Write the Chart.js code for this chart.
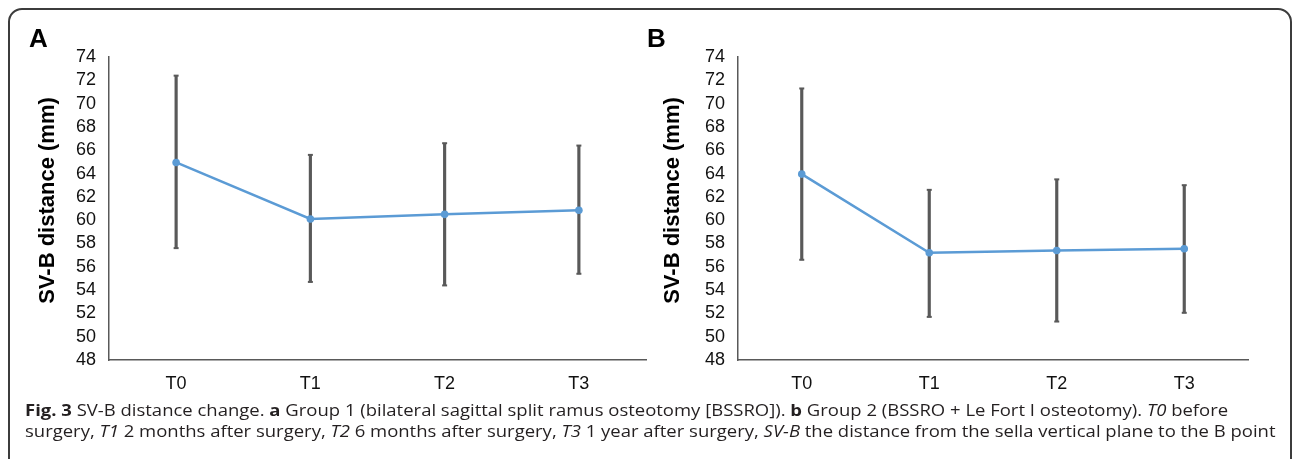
<!DOCTYPE html>
<html><head><meta charset="utf-8">
<script src="https://cdn.jsdelivr.net/npm/chart.js@4.4.1/dist/chart.umd.min.js"></script>
<style>
html,body{margin:0;padding:0;background:#fff;width:1292px;height:459px;overflow:hidden;position:relative;}
#frame{position:absolute;left:8px;top:8px;width:1284px;height:520px;border:2px solid #3c3c3c;border-radius:14px;box-sizing:border-box;}
canvas{position:absolute;top:0;}
#cA{left:0}
#cB{left:640px}
.lbl{position:absolute;font:bold 26px "Liberation Sans",Arial,sans-serif;line-height:26px;color:#000;}
.cap{position:absolute;left:25px;font-family:"Open Sans",sans-serif;font-size:16.5px;line-height:21px;color:#231f20;white-space:nowrap;transform-origin:0 0;}
</style></head>
<body>
<div id="frame"></div>
<canvas id="cA" width="660" height="400"></canvas>
<canvas id="cB" width="652" height="400"></canvas>
<div class="lbl" style="left:29px;top:25px">A</div>
<div class="lbl" style="left:647px;top:25px">B</div>
<div class="cap" id="cap1" style="top:399px"><b>Fig. 3</b> SV-B distance change. <b>a</b> Group 1 (bilateral sagittal split ramus osteotomy [BSSRO]). <b>b</b> Group 2 (BSSRO + Le Fort I osteotomy). <i>T0</i> before</div>
<div class="cap" id="cap2" style="top:420px">surgery, <i>T1</i> 2 months after surgery, <i>T2</i> 6 months after surgery, <i>T3</i> 1 year after surgery, <i>SV-B</i> the distance from the sella vertical plane to the B point</div>
<script>
const categories = ['T0', 'T1', 'T2', 'T3'];
const yTickValues = [48, 50, 52, 54, 56, 58, 60, 62, 64, 66, 68, 70, 72, 74];
const yTitle = 'SV-B distance (mm)';

// Group 1 (panel A)
const meanA  = [64.95, 60.1, 60.5, 60.85];
const upperA = [72.4, 65.6, 66.6, 66.4];
const lowerA = [57.6, 54.7, 54.4, 55.4];

// Group 2 (panel B)
const meanB  = [63.95, 57.2, 57.4, 57.55];
const upperB = [71.3, 62.6, 63.5, 63.0];
const lowerB = [56.6, 51.7, 51.3, 52.05];

const FONT = '"Liberation Sans", Arial, sans-serif';
const ERR = '#595959';
const BLUE = '#5B9BD5';

// y-axis title drawn slightly above the axis centre, as in the reference
const yTitlePlugin = {
  id: 'yTitle',
  afterDraw(chart, args, opts) {
    const ctx = chart.ctx, a = chart.chartArea;
    ctx.save();
    ctx.font = 'bold 22px ' + FONT;
    ctx.fillStyle = '#000';
    ctx.textAlign = 'center';
    ctx.textBaseline = 'middle';
    ctx.translate(opts.x, (a.top + a.bottom) / 2 - 8);
    ctx.rotate(-Math.PI / 2);
    ctx.fillText(yTitle, 0, 0);
    ctx.restore();
  }
};

function makeChart(id, mean, lower, upper, axisWidth, titleX, rightPad) {
  new Chart(document.getElementById(id), {
    data: {
      labels: categories,
      datasets: [
        { type: 'line', data: mean, borderColor: BLUE, backgroundColor: BLUE,
          borderWidth: 2.5, pointRadius: 3.8, pointBorderWidth: 0, pointBackgroundColor: BLUE,
          tension: 0, order: 0 },
        { type: 'bar', data: categories.map((c, i) => [lower[i], upper[i]]),
          backgroundColor: ERR, barThickness: 2.5, grouped: false, borderWidth: 0, order: 2 },
        { type: 'line', data: upper, showLine: false, pointStyle: 'line', pointRadius: 2.5,
          pointBorderColor: ERR, pointBorderWidth: 2, order: 1 },
        { type: 'line', data: lower, showLine: false, pointStyle: 'line', pointRadius: 2.5,
          pointBorderColor: ERR, pointBorderWidth: 2, order: 1 }
      ]
    },
    plugins: [yTitlePlugin],
    options: {
      responsive: false,
      animation: false,
      devicePixelRatio: 1,
      layout: { padding: { top: 57, right: rightPad, bottom: 0, left: 0 } },
      plugins: { legend: { display: false }, tooltip: { enabled: false }, yTitle: { x: titleX } },
      scales: {
        x: {
          type: 'category', offset: true,
          grid: { display: false, drawTicks: false },
          border: { display: true, color: ERR, width: 1.5 },
          ticks: { color: '#111', font: { family: FONT, size: 18 }, padding: 13 },
          afterFit: s => { s.height = 40; }
        },
        y: {
          min: 48, max: 74,
          grid: { display: false, drawTicks: false },
          border: { display: true, color: ERR, width: 1.5 },
          afterBuildTicks: s => { s.ticks = yTickValues.map(v => ({ value: v })); },
          ticks: { color: '#111', font: { family: FONT, size: 18 }, padding: 13, autoSkip: false },
          title: { display: false },
          afterFit: s => { s.width = axisWidth; }
        }
      }
    }
  });
}

makeChart('cA', meanA, lowerA, upperA, 109, 48, 14);
makeChart('cB', meanB, lowerB, upperB, 98, 33, 44);

function fitCaption() {
  const c1 = document.getElementById('cap1');
  const c2 = document.getElementById('cap2');
  const w2 = c2.offsetWidth;
  const k = 1250 / w2;
  c1.style.transform = 'scaleX(' + k + ')';
  c2.style.transform = 'scaleX(' + k + ')';
}
fitCaption();
if (document.fonts && document.fonts.ready) { document.fonts.ready.then(fitCaption); }
</script>
</body></html>
